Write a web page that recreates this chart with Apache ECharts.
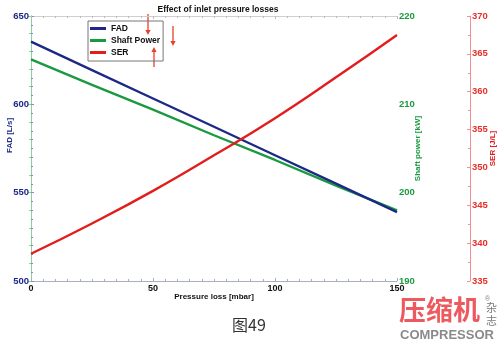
<!DOCTYPE html>
<html>
<head>
<meta charset="utf-8">
<script src="https://cdn.jsdelivr.net/npm/echarts@6/dist/echarts.min.js"></script>
<style>html,body{margin:0;padding:0;background:#fff}#c{width:500px;height:339px}</style>
</head>
<body>
<div id="c"></div>
<script>
const pressure = [0, 25, 50, 75, 100, 125, 150];
const fad = [635.5, 619.4, 603.3, 587.3, 571.2, 555.1, 539.0];
const shaftPower = [215.1, 212.2, 209.4, 206.5, 203.7, 200.8, 198.0];
const ser = [338.6, 342.6, 346.9, 351.6, 356.5, 361.9, 367.5];
const xTicks = [0, 50, 100, 150];
const fadTicks = [500, 550, 600, 650];
const powerTicks = [190, 200, 210, 220];
const serTicks = [335, 340, 345, 350, 355, 360, 365, 370];

const pairs = (ys) => pressure.map((x, i) => [x, ys[i]]);
const FONT = 'Liberation Sans, Arial, sans-serif';
const NAVY = '#1c2a86', GREEN = '#1a9a40', RED = '#e21d1d';

function arrow(x, yTail, yHead) {
  const dir = yHead > yTail ? 1 : -1;
  return {
    type: 'group', silent: true,
    children: [
      { type: 'line', shape: { x1: x, y1: yTail, x2: x, y2: yHead - dir * 4 }, style: { stroke: '#e8402a', lineWidth: 1.3 } },
      { type: 'polygon', shape: { points: [[x - 2.6, yHead - dir * 5], [x + 2.6, yHead - dir * 5], [x, yHead]] }, style: { fill: '#e8402a' } }
    ]
  };
}

const chart = echarts.init(document.getElementById('c'), null, { renderer: 'canvas' });
chart.setOption({
  backgroundColor: '#fff',
  animation: false,
  title: {
    text: 'Effect of inlet pressure losses', left: 213, top: 0, textAlign: 'center',
    textStyle: { fontFamily: FONT, fontSize: 8.5, fontWeight: 'bold', color: '#111' }
  },
  legend: {
    data: ['FAD', 'Shaft Power', 'SER'], orient: 'vertical', left: 88, top: 21,
    icon: 'rect', itemWidth: 16, itemHeight: 3, itemGap: 3, itemTextGap: 3,
    padding: [3, 3, 4, 2], borderColor: '#777', borderWidth: 1,
    textStyle: { fontFamily: FONT, fontSize: 8.5, fontWeight: 'bold', color: '#111' }
  },
  grid: { left: 31, right: 103, top: 16, bottom: 58, containLabel: false, outerBoundsMode: 'none' },
  xAxis: [{
    type: 'value', min: 0, max: 150, interval: 50,
    name: 'Pressure loss [mbar]', nameLocation: 'middle', nameGap: 12, nameMoveOverlap: false,
    nameTextStyle: { fontFamily: FONT, fontSize: 8, fontWeight: 'bold', color: '#111' },
    axisLine: { show: true, lineStyle: { color: '#a8aec4', width: 1 } },
    axisTick: { show: true, inside: true, length: 3, lineStyle: { color: '#a8aec4' } },
    minorTick: { show: true, splitNumber: 10, length: 2, lineStyle: { color: '#a8aec4' } },
    axisLabel: { margin: 3, fontFamily: FONT, fontSize: 9, fontWeight: 'bold', color: '#111',
      customValues: xTicks },
    splitLine: { show: false }
  }, {
    type: 'value', min: 0, max: 150, interval: 50, position: 'top',
    axisLine: { show: true, lineStyle: { color: '#cfcfcf', width: 1 } },
    axisTick: { show: true, inside: true, length: 3, lineStyle: { color: '#bbb' } },
    minorTick: { show: true, splitNumber: 10, length: 2, lineStyle: { color: '#bbb' } },
    axisLabel: { show: false }, splitLine: { show: false }
  }],
  yAxis: [{
    type: 'value', min: 500, max: 650, interval: 50, position: 'left',
    name: 'FAD [L/s]', nameLocation: 'middle', nameGap: 17, nameRotate: 90, nameMoveOverlap: false,
    nameTextStyle: { fontFamily: FONT, fontSize: 8, fontWeight: 'bold', color: NAVY, padding: [0, 0, 0, 26] },
    axisLine: { show: true, lineStyle: { color: '#7b8fd6', width: 1 } },
    axisTick: { show: true, inside: true, length: 3, lineStyle: { color: '#7b8fd6' } },
    minorTick: { show: true, splitNumber: 10, length: 2, lineStyle: { color: '#7b8fd6' } },
    axisLabel: { margin: 2, fontFamily: FONT, fontSize: 9.5, fontWeight: 'bold', color: NAVY, customValues: fadTicks },
    splitLine: { show: false }
  }, {
    type: 'value', min: 190, max: 220, interval: 10, position: 'right', offset: 0,
    name: 'Shaft power [kW]', nameLocation: 'middle', nameGap: 17, nameRotate: 90, nameMoveOverlap: false,
    nameTextStyle: { fontFamily: FONT, fontSize: 8, fontWeight: 'bold', color: GREEN },
    axisLine: { show: true, lineStyle: { color: '#8fcf98', width: 1 } },
    axisTick: { show: true, inside: true, length: 3, lineStyle: { color: '#8fcf98' } },
    minorTick: { show: true, splitNumber: 5, length: 2, lineStyle: { color: '#8fcf98' } },
    axisLabel: { margin: 2, fontFamily: FONT, fontSize: 9.5, fontWeight: 'bold', color: GREEN, customValues: powerTicks },
    splitLine: { show: false }
  }, {
    type: 'value', min: 335, max: 370, interval: 5, position: 'right', offset: 73,
    name: 'SER [J/L]', nameLocation: 'middle', nameGap: 19, nameRotate: 90, nameMoveOverlap: false,
    nameTextStyle: { fontFamily: FONT, fontSize: 8, fontWeight: 'bold', color: RED },
    axisLine: { show: true, lineStyle: { color: '#f29090', width: 1 } },
    axisTick: { show: true, inside: true, length: 3, lineStyle: { color: '#f29090' } },
    minorTick: { show: true, splitNumber: 2, length: 2, lineStyle: { color: '#f29090' } },
    axisLabel: { margin: 2, fontFamily: FONT, fontSize: 9.5, fontWeight: 'bold', color: '#e8302a', customValues: serTicks },
    splitLine: { show: false }
  }],
  series: [
    { name: 'FAD', type: 'line', xAxisIndex: 0, yAxisIndex: 0, data: pairs(fad), symbol: 'none',
      lineStyle: { color: NAVY, width: 2.4 }, itemStyle: { color: NAVY }, z: 3 },
    { name: 'Shaft Power', type: 'line', xAxisIndex: 0, yAxisIndex: 1, data: pairs(shaftPower), symbol: 'none',
      lineStyle: { color: GREEN, width: 2.4 }, itemStyle: { color: GREEN }, z: 2 },
    { name: 'SER', type: 'line', xAxisIndex: 0, yAxisIndex: 2, data: pairs(ser), symbol: 'none', smooth: true,
      lineStyle: { color: RED, width: 2.4 }, itemStyle: { color: RED }, z: 4 }
  ],
  graphic: [
    arrow(148, 14, 35),
    arrow(173, 26, 46),
    arrow(154, 67, 47),
    { type: 'text', left: 232, top: 317, style: { text: '图49', font: '16px "Noto Sans CJK SC", sans-serif', fill: '#333' } },
    { type: 'text', left: 399, top: 296, style: { text: '压缩机', font: 'bold 27px "Noto Sans CJK SC", sans-serif', fill: '#ec5a60' } },
    { type: 'text', left: 485, top: 296, style: { text: '®', font: '7px sans-serif', fill: '#888' } },
    { type: 'text', x: 486, y: 302, style: { text: '杂', font: '11px "Noto Sans CJK SC", sans-serif', fill: '#777', verticalAlign: 'top' } },
    { type: 'text', x: 486, y: 315, style: { text: '志', font: '11px "Noto Sans CJK SC", sans-serif', fill: '#777', verticalAlign: 'top' } },
    { type: 'text', left: 400, top: 329, style: { text: 'COMPRESSOR', font: 'bold 13px "Liberation Sans", Arial, sans-serif', fill: '#8a8a8a' } }
  ]
});
</script>
</body>
</html>
